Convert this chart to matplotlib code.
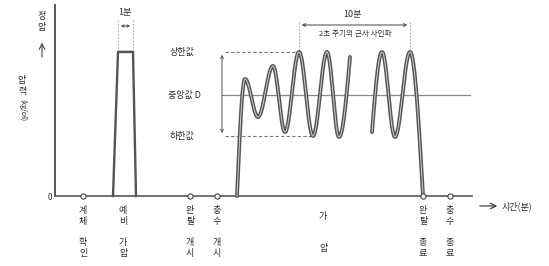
import numpy as np
import matplotlib
matplotlib.use("Agg")
import matplotlib.pyplot as plt

FONT = ['Noto Sans CJK KR', 'DejaVu Sans']
plt.rcParams['font.family'] = FONT

# ---- data (time in drawing units along the axis, pressure in drawing units) ----
event_x = [83, 190, 217, 423, 450]            # circle markers on time axis
label_x = [83, 123, 190, 217, 323, 423, 450]
label_top = ["계체", "예비", "완탈", "충수", "가", "완탈", "충수"]
label_bot = ["확인", "가압", "개시", "개시", "압", "종료", "종료"]

upper, middle, lower = 144, 101, 60           # 상한값, 중앙값 D, 하한값
pre_x = [113, 118, 133, 136]                  # 예비 가압 pulse
pre_p = [0, 144, 144, 0]

# wave extrema: (x, p, shape) -- shape of the segment arriving at this point
wave1_x = [237, 245, 258, 273, 285, 299, 313, 327, 339, 350]
wave1_p = [0, 117, 79, 130, 64, 144, 60, 144, 59, 139]
wave1_s = [None, 'out', 'c', 'c', 'c', 'c', 'c', 'c', 'c', 'in']
wave2_x = [372, 382, 395, 410, 423]
wave2_p = [64, 144, 59, 144, 0]
wave2_s = [None, 'out', 'c', 'c', 'in']

fig = plt.figure(figsize=(5.49, 2.66), dpi=100)
ax = fig.add_axes([0, 0, 1, 1])
ax.set_xlim(0, 549)
ax.set_ylim(-70, 196)
ax.axis('off')

LC = '#4a4a4a'
TC = '#2e2e2e'
FW = 'medium'

def P(ypix):
    return 196 - ypix

def draw_wave(xs, ps, ss):
    X, Y = [], []
    for i in range(1, len(xs)):
        x0, x1, y0, y1 = xs[i-1], xs[i], ps[i-1], ps[i]
        s = np.linspace(0, 1, 40)
        if ss[i] == 'c':
            f = (1 - np.cos(np.pi * s)) / 2
        elif ss[i] == 'out':
            f = np.sin(np.pi / 2 * s)
        else:
            f = 1 - np.cos(np.pi / 2 * s)
        X.extend(x0 + (x1 - x0) * s)
        Y.extend(y0 + (y1 - y0) * f)
    ax.plot(X, Y, color='#555555', lw=2.8, solid_capstyle='round', zorder=3)
    ax.plot(X, Y, color='#cfcfcf', lw=0.7, zorder=4)

# axes
ax.plot([55, 55], [0, P(5)], color=LC, lw=1.3)
ax.plot([55, 472], [0, 0], color='#666666', lw=1.3)
ax.text(50, -1, "0", fontsize=6, color=TC, ha='center', va='center')
ax.annotate("", xy=(500, P(206)), xytext=(477, P(206)),
            arrowprops=dict(arrowstyle='->', color=TC, lw=0.8))
ax.text(502, P(206), "시간(분)", fontsize=6.5, color=TC, ha='left', va='center', fontweight=FW)

# y labels
ax.text(42, P(22), "정\n압", fontsize=6.5, color=TC, ha='center', va='center', linespacing=1.2, fontweight=FW)
ax.annotate("", xy=(42, P(40)), xytext=(42, P(60)),
            arrowprops=dict(arrowstyle='->', color=TC, lw=0.7))
ax.text(22, P(86), "압\n력", fontsize=6.5, color=TC, ha='center', va='center', linespacing=1.3, fontweight=FW)
ax.text(22, P(110), "(kg/㎠)", fontsize=5, color=TC, ha='center', va='center', rotation=-90)

# reference lines
ax.plot([225, 300], [upper, upper], color='#777777', lw=0.8, ls=(0, (3, 2)))
ax.plot([222, 470], [middle, middle], color='#8a8a8a', lw=0.9)
ax.plot([225, 313], [lower, lower], color='#777777', lw=0.8, ls=(0, (3, 2)))
ax.annotate("", xy=(222, upper), xytext=(222, lower),
            arrowprops=dict(arrowstyle='<->', color='#555555', lw=0.7, mutation_scale=5))
ax.text(182, upper, "상한값", fontsize=6.5, color=TC, ha='center', va='center', fontweight=FW)
ax.text(168, middle, "중앙값 D", fontsize=6.5, color=TC, ha='left', va='center', fontweight=FW)
ax.text(182, lower, "하한값", fontsize=6.5, color=TC, ha='center', va='center', fontweight=FW)

# pre-pressurisation pulse
ax.plot(pre_x, pre_p, color='#555555', lw=1.7, zorder=3)
ax.plot(pre_x[1:3], [pre_p[1] + 1.5] * 2, color='#555555', lw=1.0, zorder=3)
for xv in (pre_x[1], pre_x[2]):
    ax.plot([xv, xv], [P(20), upper], color='#999999', lw=0.6, ls=(0, (2, 2)))
ax.annotate("", xy=(pre_x[1], P(26)), xytext=(pre_x[2], P(26)),
            arrowprops=dict(arrowstyle='<->', color='#444444', lw=0.7, mutation_scale=4))
ax.text(125, P(13), "1분", fontsize=6.5, color=TC, ha='center', va='center', fontweight=FW)

# 10-minute dimension
for xv in (299, 410):
    ax.plot([xv, xv], [P(22), upper], color='#999999', lw=0.6, ls=(0, (2, 2)))
ax.annotate("", xy=(299, P(25)), xytext=(410, P(25)),
            arrowprops=dict(arrowstyle='<->', color='#444444', lw=0.7, mutation_scale=5))
ax.text(352, P(15), "10분", fontsize=6.5, color=TC, ha='center', va='center', fontweight=FW)
ax.text(355, P(34), "2초 주기의 근사 사인파", fontsize=5.5, color=TC, ha='center', va='center', fontweight=FW)

# waves
draw_wave(wave1_x, wave1_p, wave1_s)
draw_wave(wave2_x, wave2_p, wave2_s)

# event markers
ax.scatter(event_x, [0] * len(event_x), s=14, facecolors='white',
           edgecolors='#444444', linewidths=0.8, zorder=5)

# bottom labels (vertical)
for xv, t, b in zip(label_x, label_top, label_bot):
    ax.text(xv, P(216), "\n".join(t), fontsize=6.5, color=TC, ha='center', va='center',
            linespacing=1.25, fontweight=FW)
    ax.text(xv, P(248), "\n".join(b), fontsize=6.5, color=TC, ha='center', va='center',
            linespacing=1.25, fontweight=FW)

fig.savefig("out.png", dpi=100)
